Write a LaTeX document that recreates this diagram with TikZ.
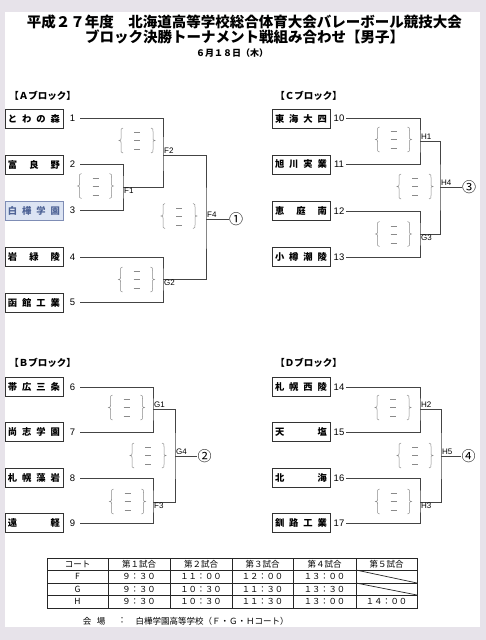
\documentclass[tikz,border=0pt]{standalone}
\usepackage{fontspec}
\setmainfont{Noto Sans CJK JP}
\newfontfamily\lat{Liberation Sans}
\usetikzlibrary{calc}
\definecolor{bgc}{HTML}{E7E3EA}
\definecolor{ln}{HTML}{444444}
\definecolor{brc}{HTML}{8A8A8A}
\definecolor{hlfill}{HTML}{DCE4F3}
\definecolor{hlline}{HTML}{7F8DB5}
\definecolor{hltext}{HTML}{4E6396}
\newcommand\sprd[1]{\makebox[52pt][s]{#1}}
\begin{document}
\begin{tikzpicture}[x=1pt,y=-1pt,
  team/.style={draw=black!80, line width=0.8pt, minimum width=58pt, minimum height=19pt, inner sep=0pt, font=\fontsize{9.3}{9}\selectfont\bfseries},
  hl/.style={team, fill=hlfill, draw=hlline, text=hltext},
  num/.style={font=\lat\fontsize{9.5}{9.5}\selectfont, inner sep=0pt},
  mlab/.style={font=\lat\fontsize{8}{8}\selectfont, inner sep=1pt},
  wire/.style={draw=ln, line width=0.75pt},
  res/.style={font=\fontsize{14}{14}\selectfont, inner sep=0pt},
  blk/.style={font=\fontsize{9.5}{10}\selectfont\bfseries, inner sep=0pt},
  ttxt/.style={font=\fontsize{8.5}{9}\selectfont, inner sep=0pt},
  tgrid/.style={draw=black!85, line width=0.7pt},
  scoregrp/.pic={
    \draw[brc, line width=0.5pt] (-14,-12.5) .. controls (-16,-12.5) and (-16,-11) .. (-16,-9) -- (-16,-2) .. controls (-16,-0.5) .. (-18,0) .. controls (-16,0.5) .. (-16,2) -- (-16,9) .. controls (-16,11) and (-16,12.5) .. (-14,12.5);
    \draw[brc, line width=0.5pt] (14,-12.5) .. controls (16,-12.5) and (16,-11) .. (16,-9) -- (16,-2) .. controls (16,-0.5) .. (18,0) .. controls (16,0.5) .. (16,2) -- (16,9) .. controls (16,11) and (16,12.5) .. (14,12.5);
    \draw[brc, line width=0.7pt] (-3,-8) -- (3,-8) (-3,0) -- (3,0) (-3,9) -- (3,9);
  }
]
\useasboundingbox (0,0) rectangle (486,640);
\fill[bgc] (0,0) rectangle (486,640);
\fill[white] (5,12) rectangle (480,627);

% titles
\node[font=\fontsize{14.5}{15}\selectfont\bfseries, inner sep=0pt] (title1) at (244.5,22) {平成２７年度　北海道高等学校総合体育大会バレーボール競技大会};
\node[font=\fontsize{14.5}{15}\selectfont\bfseries, inner sep=0pt] (title2) at (244.5,36.5) {ブロック決勝トーナメント戦組み合わせ【男子】};
\node[font=\fontsize{9}{9}\selectfont\bfseries, inner sep=0pt] (date) at (232,53) {６月１８日（木）};

% block headers
\node[blk] (hA) at (42.5,96) {【Ａブロック】};
\node[blk] (hC) at (308.5,96) {【Ｃブロック】};
\node[blk] (hB) at (42.5,363) {【Ｂブロック】};
\node[blk] (hD) at (308.5,363) {【Ｄブロック】};

% ---------- A block
\node[team] (t1) at (34,118.5) {\sprd{と\hfill わ\hfill の\hfill 森}};
\node[team] (t2) at (34,164.5) {\sprd{富\hfill 良\hfill 野}};
\node[hl]   (t3) at (34,211) {\sprd{白\hfill 樺\hfill 学\hfill 園}};
\node[team] (t4) at (34,257) {\sprd{岩\hfill 緑\hfill 陵}};
\node[team] (t5) at (34,302.5) {\sprd{函\hfill 館\hfill 工\hfill 業}};
\node[num] (n1) at (72.5,118) {1};
\node[num] (n2) at (72.5,164) {2};
\node[num] (n3) at (72.5,210) {3};
\node[num] (n4) at (72.5,257) {4};
\node[num] (n5) at (72.5,302) {5};
\coordinate (s1) at (80,118);
\coordinate (s2) at (80,164);
\coordinate (s3) at (80,210);
\coordinate (s4) at (80,257);
\coordinate (s5) at (80,302);
\coordinate (F1) at (123,187);
\coordinate (F2) at (163,155);
\coordinate (G2) at (163,279);
\coordinate (F4) at (206,219);
\node[res] (r1) at (236,219) {①};
\draw[wire] (s2) -| (F1) |- (s3);
\draw[wire] (s1) -| (F2) |- (F1);
\draw[wire] (s4) -| (G2) |- (s5);
\draw[wire] (F2) -| (F4) |- (G2);
\draw[wire] (F4) -- (r1.west);
\node[mlab, anchor=north west] (lF1) at (F1) {F1};
\node[mlab, anchor=south west] (lF2) at (F2) {F2};
\node[mlab, anchor=north west] (lG2) at (G2) {G2};
\node[mlab, anchor=south west] (lF4) at (F4) {F4};
\pic at (137,140.5) {scoregrp};
\pic at (95.5,186) {scoregrp};
\pic at (179,216) {scoregrp};
\pic at (136.5,279.5) {scoregrp};

% ---------- C block
\node[team] (t10) at (301,118.5) {\sprd{東\hfill 海\hfill 大\hfill 四}};
\node[team] (t11) at (301,164.5) {\sprd{旭\hfill 川\hfill 実\hfill 業}};
\node[team] (t12) at (301,211) {\sprd{恵\hfill 庭\hfill 南}};
\node[team] (t13) at (301,257) {\sprd{小\hfill 樽\hfill 潮\hfill 陵}};
\node[num] (n10) at (339,118) {10};
\node[num] (n11) at (339,164) {11};
\node[num] (n12) at (339,211) {12};
\node[num] (n13) at (339,257) {13};
\coordinate (s10) at (346,118);
\coordinate (s11) at (346,164);
\coordinate (s12) at (346,211);
\coordinate (s13) at (346,257);
\coordinate (H1) at (420,141);
\coordinate (G3) at (420,234);
\coordinate (H4) at (440,187);
\node[res] (r3) at (469,187) {③};
\draw[wire] (s10) -| (H1) |- (s11);
\draw[wire] (s12) -| (G3) |- (s13);
\draw[wire] (H1) -| (H4) |- (G3);
\draw[wire] (H4) -- (r3.west);
\node[mlab, anchor=south west] (lH1) at (H1) {H1};
\node[mlab, anchor=north west] (lG3) at (G3) {G3};
\node[mlab, anchor=south west] (lH4) at (H4) {H4};
\pic at (393.5,139.5) {scoregrp};
\pic at (415,186.5) {scoregrp};
\pic at (393.5,234) {scoregrp};

% ---------- B block
\node[team] (t6) at (34,387) {\sprd{帯\hfill 広\hfill 三\hfill 条}};
\node[team] (t7) at (34,432) {\sprd{尚\hfill 志\hfill 学\hfill 園}};
\node[team] (t8) at (34,478) {\sprd{札\hfill 幌\hfill 藻\hfill 岩}};
\node[team] (t9) at (34,523) {\sprd{遠\hfill 軽}};
\node[num] (n6) at (72.5,387) {6};
\node[num] (n7) at (72.5,432) {7};
\node[num] (n8) at (72.5,478) {8};
\node[num] (n9) at (72.5,523) {9};
\coordinate (s6) at (80,387);
\coordinate (s7) at (80,432);
\coordinate (s8) at (80,478);
\coordinate (s9) at (80,523);
\coordinate (G1) at (153,409);
\coordinate (F3) at (153,502);
\coordinate (G4) at (175,456);
\node[res] (r2) at (204.5,456) {②};
\draw[wire] (s6) -| (G1) |- (s7);
\draw[wire] (s8) -| (F3) |- (s9);
\draw[wire] (G1) -| (G4) |- (F3);
\draw[wire] (G4) -- (r2.west);
\node[mlab, anchor=south west] (lG1) at (G1) {G1};
\node[mlab, anchor=north west] (lF3) at (F3) {F3};
\node[mlab, anchor=south west] (lG4) at (G4) {G4};
\pic at (126.5,407.5) {scoregrp};
\pic at (148,455.5) {scoregrp};
\pic at (127.5,501.5) {scoregrp};

% ---------- D block
\node[team] (t14) at (301,387) {\sprd{札\hfill 幌\hfill 西\hfill 陵}};
\node[team] (t15) at (301,432) {\sprd{天\hfill 塩}};
\node[team] (t16) at (301,478) {\sprd{北\hfill 海}};
\node[team] (t17) at (301,523) {\sprd{釧\hfill 路\hfill 工\hfill 業}};
\node[num] (n14) at (339,387) {14};
\node[num] (n15) at (339,432) {15};
\node[num] (n16) at (339,478) {16};
\node[num] (n17) at (339,523) {17};
\coordinate (s14) at (346,387);
\coordinate (s15) at (346,432);
\coordinate (s16) at (346,478);
\coordinate (s17) at (346,523);
\coordinate (H2) at (420,409);
\coordinate (H3) at (420,502);
\coordinate (H5) at (441,456);
\node[res] (r4) at (468.5,456) {④};
\draw[wire] (s14) -| (H2) |- (s15);
\draw[wire] (s16) -| (H3) |- (s17);
\draw[wire] (H2) -| (H5) |- (H3);
\draw[wire] (H5) -- (r4.west);
\node[mlab, anchor=south west] (lH2) at (H2) {H2};
\node[mlab, anchor=north west] (lH3) at (H3) {H3};
\node[mlab, anchor=south west] (lH5) at (H5) {H5};
\pic at (393,407.5) {scoregrp};
\pic at (415,455.5) {scoregrp};
\pic at (393.5,501.5) {scoregrp};

% ---------- timetable
\draw[tgrid, line width=0.9pt] (47,558) rectangle (417,608);
\foreach \yy in {570,583,595} \draw[tgrid] (47,\yy) -- (417,\yy);
\foreach \xx in {108,170,232,293,356} \draw[tgrid] (\xx,558) -- (\xx,608);
\draw[tgrid] (356,570) -- (417,583);
\draw[tgrid] (356,583) -- (417,595);
\node[ttxt] (c00) at (77.5,564) {コート};
\node[ttxt] (c01) at (139,564) {第１試合};
\node[ttxt] (c02) at (201,564) {第２試合};
\node[ttxt] (c03) at (262.5,564) {第３試合};
\node[ttxt] (c04) at (324.5,564) {第４試合};
\node[ttxt] (c05) at (386.5,564) {第５試合};
\node[ttxt] (c10) at (77.5,576.5) {F};
\node[ttxt] (c11) at (139,576.5) {\fontsize{8.3}{8}\selectfont ９：３０};
\node[ttxt] (c12) at (201,576.5) {\fontsize{8.3}{8}\selectfont １１：００};
\node[ttxt] (c13) at (262.5,576.5) {\fontsize{8.3}{8}\selectfont １２：００};
\node[ttxt] (c14) at (324.5,576.5) {\fontsize{8.3}{8}\selectfont １３：００};
\node[ttxt] (c20) at (77.5,589) {G};
\node[ttxt] (c21) at (139,589) {\fontsize{8.3}{8}\selectfont ９：３０};
\node[ttxt] (c22) at (201,589) {\fontsize{8.3}{8}\selectfont １０：３０};
\node[ttxt] (c23) at (262.5,589) {\fontsize{8.3}{8}\selectfont １１：３０};
\node[ttxt] (c24) at (324.5,589) {\fontsize{8.3}{8}\selectfont １３：３０};
\node[ttxt] (c30) at (77.5,601.5) {H};
\node[ttxt] (c31) at (139,601.5) {\fontsize{8.3}{8}\selectfont ９：３０};
\node[ttxt] (c32) at (201,601.5) {\fontsize{8.3}{8}\selectfont １０：３０};
\node[ttxt] (c33) at (262.5,601.5) {\fontsize{8.3}{8}\selectfont １１：３０};
\node[ttxt] (c34) at (324.5,601.5) {\fontsize{8.3}{8}\selectfont １３：００};
\node[ttxt] (c35) at (386.5,601.5) {\fontsize{8.3}{8}\selectfont １４：００};

% venue
\node[ttxt] (v1) at (87,621) {会};
\node[ttxt] (v2) at (101,621) {場};
\node[ttxt] (v3) at (122,621) {：};
\node[ttxt, anchor=west] (v4) at (135.5,621) {白樺学園高等学校（Ｆ・Ｇ・Ｈコート）};
\end{tikzpicture}
\end{document}
